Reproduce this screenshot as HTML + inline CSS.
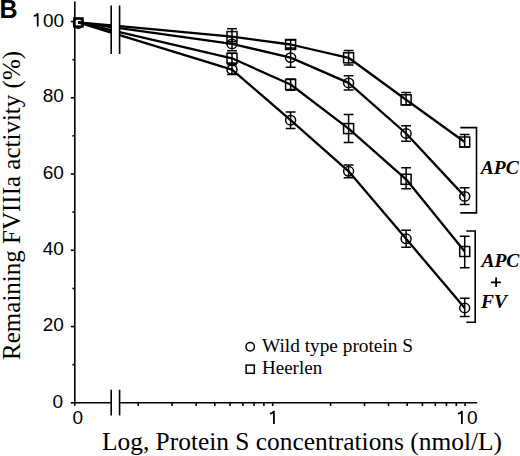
<!DOCTYPE html>
<html><head><meta charset="utf-8"><style>
html,body{margin:0;padding:0;background:#fff;}
body{width:520px;height:456px;overflow:hidden;position:relative;}
svg{position:absolute;left:0;top:0;}
.s{fill:none;stroke:#000;stroke-width:2.3;stroke-linejoin:round;}
.e{fill:none;stroke:#000;stroke-width:1.5;}
.m{fill:none;stroke:#000;stroke-width:1.5;}
.one{fill:none;stroke:#000;stroke-width:1.8;}
.a{fill:none;stroke:#000;stroke-width:1.6;}
.tl{font-family:"Liberation Sans",sans-serif;font-size:19px;fill:#000;}
.sf{font-family:"Liberation Serif",serif;fill:#000;}
.bi{font-family:"Liberation Serif",serif;font-weight:bold;font-style:italic;font-size:19.5px;fill:#000;}
</style></head><body>
<svg width="520" height="456" viewBox="0 0 520 456">
<text x="-0.5" y="17.6" style="font-family:'Liberation Sans',sans-serif;font-weight:bold;font-size:25px">B</text>
<g class="tl" text-anchor="end">
<text x="63.8" y="102.3">80</text>
<text x="63.8" y="178.8">60</text>
<text x="63.8" y="255.3">40</text>
<text x="63.8" y="331.1">20</text>
<text x="63.1" y="407.6">0</text>
</g>
<g class="tl">
<text x="72.6" y="424.1">0</text>
<text x="43.0" y="26.5">00</text>
<text x="466.9" y="424.1">0</text>
</g>
<text class="sf" x="102" y="449.8" style="font-size:25px" textLength="400" lengthAdjust="spacingAndGlyphs">Log, Protein S concentrations (nmol/L)</text>
<text class="sf" transform="translate(19.7,359.9) rotate(-90)" style="font-size:25px">Remaining FVIIIa activity (%)</text>
<path class="s" d="M78.2,22.4 L111.2,25.45 M119.6,26.22 L232,36.6 L290.6,44.5 L348.6,57.8 L406.1,99.8 L464.7,142.0"/>
<path class="s" d="M78.2,22.4 L111.2,27.01 M119.6,28.19 L232,43.9 L290.6,57.6 L348.6,82.9 L406.1,133.5 L464.7,196.4"/>
<path class="s" d="M78.2,22.4 L111.2,30.10 M119.6,32.06 L232,58.3 L290.6,84.5 L348.6,128.6 L406.1,179.3 L464.7,251.5"/>
<path class="s" d="M78.2,22.4 L111.2,32.53 M119.6,35.11 L232,69.6 L290.6,120.2 L348.6,171.3 L406.1,238.8 L464.7,308.0"/>
<path class="e" d="M232,64.8 V74.4 M227.1,64.8 H236.9 M227.1,74.4 H236.9"/>
<ellipse class="m" cx="232" cy="69.6" rx="5.0" ry="4.7"/>
<path class="e" d="M290.6,111.9 V128.4 M285.70000000000005,111.9 H295.5 M285.70000000000005,128.4 H295.5"/>
<ellipse class="m" cx="290.6" cy="120.2" rx="5.0" ry="4.7"/>
<path class="e" d="M348.6,165.0 V177.7 M343.70000000000005,165.0 H353.5 M343.70000000000005,177.7 H353.5"/>
<ellipse class="m" cx="348.6" cy="171.3" rx="5.0" ry="4.7"/>
<path class="e" d="M406.1,230.3 V247.3 M401.20000000000005,230.3 H411.0 M401.20000000000005,247.3 H411.0"/>
<ellipse class="m" cx="406.1" cy="238.8" rx="5.0" ry="4.7"/>
<path class="e" d="M464.7,298.2 V316.5 M459.8,298.2 H469.59999999999997 M459.8,316.5 H469.59999999999997"/>
<ellipse class="m" cx="464.7" cy="308.0" rx="5.0" ry="4.7"/>
<path class="e" d="M232,53.3 V63.3 M227.1,53.3 H236.9 M227.1,63.3 H236.9"/>
<rect class="m" x="227.00" y="53.30" width="10.00" height="10.00"/>
<path class="e" d="M290.6,78.9 V90.2 M285.70000000000005,78.9 H295.5 M285.70000000000005,90.2 H295.5"/>
<rect class="m" x="285.60" y="79.50" width="10.00" height="10.00"/>
<path class="e" d="M348.6,114.6 V142.6 M343.70000000000005,114.6 H353.5 M343.70000000000005,142.6 H353.5"/>
<rect class="m" x="343.60" y="123.60" width="10.00" height="10.00"/>
<path class="e" d="M406.1,167.7 V188.8 M401.20000000000005,167.7 H411.0 M401.20000000000005,188.8 H411.0"/>
<rect class="m" x="401.10" y="174.30" width="10.00" height="10.00"/>
<path class="e" d="M464.7,236.3 V267.8 M459.8,236.3 H469.59999999999997 M459.8,267.8 H469.59999999999997"/>
<rect class="m" x="459.70" y="246.50" width="10.00" height="10.00"/>
<path class="e" d="M232,37.0 V50.8 M227.1,37.0 H236.9 M227.1,50.8 H236.9"/>
<ellipse class="m" cx="232" cy="43.9" rx="5.0" ry="4.7"/>
<path class="e" d="M290.6,47.9 V67.3 M285.70000000000005,47.9 H295.5 M285.70000000000005,67.3 H295.5"/>
<ellipse class="m" cx="290.6" cy="57.6" rx="5.0" ry="4.7"/>
<path class="e" d="M348.6,75.8 V90.0 M343.70000000000005,75.8 H353.5 M343.70000000000005,90.0 H353.5"/>
<ellipse class="m" cx="348.6" cy="82.9" rx="5.0" ry="4.7"/>
<path class="e" d="M406.1,125.8 V141.2 M401.20000000000005,125.8 H411.0 M401.20000000000005,141.2 H411.0"/>
<ellipse class="m" cx="406.1" cy="133.5" rx="5.0" ry="4.7"/>
<path class="e" d="M464.7,187.8 V204.5 M459.8,187.8 H469.59999999999997 M459.8,204.5 H469.59999999999997"/>
<ellipse class="m" cx="464.7" cy="196.4" rx="5.0" ry="4.7"/>
<path class="e" d="M232,28.8 V43.4 M227.1,28.8 H236.9 M227.1,43.4 H236.9"/>
<rect class="m" x="227.00" y="31.60" width="10.00" height="10.00"/>
<path class="e" d="M290.6,40.0 V49.0 M285.70000000000005,40.0 H295.5 M285.70000000000005,49.0 H295.5"/>
<rect class="m" x="285.60" y="39.50" width="10.00" height="10.00"/>
<path class="e" d="M348.6,50.5 V65.1 M343.70000000000005,50.5 H353.5 M343.70000000000005,65.1 H353.5"/>
<rect class="m" x="343.60" y="52.80" width="10.00" height="10.00"/>
<path class="e" d="M406.1,92.5 V105.0 M401.20000000000005,92.5 H411.0 M401.20000000000005,105.0 H411.0"/>
<rect class="m" x="401.10" y="94.80" width="10.00" height="10.00"/>
<path class="e" d="M464.7,134.6 V147.0 M459.8,134.6 H469.59999999999997 M459.8,147.0 H469.59999999999997"/>
<rect class="m" x="459.70" y="137.00" width="10.00" height="10.00"/>
<circle cx="78.3" cy="23.4" r="4.7" fill="none" stroke="#000" stroke-width="1.8"/>
<rect x="74.2" y="18.3" width="8.45" height="8.2" fill="none" stroke="#000" stroke-width="2.2"/>
<path class="a" d="M74.8,1.5 V405.8"/>
<path class="a" d="M74.8,402.8 H111.2 M119.6,402.8 H477.2"/>
<path class="a" d="M111.2,389.8 V415.5 M111.2,5.4 V54"/>
<path class="a" d="M119.6,389.8 V415.5 M119.6,5.4 V54"/>
<path class="a" d="M70.8,402.80 H74.8"/>
<path class="a" d="M72.39999999999999,364.67 H74.8"/>
<path class="a" d="M70.8,326.54 H74.8"/>
<path class="a" d="M72.39999999999999,288.41 H74.8"/>
<path class="a" d="M70.8,250.28 H74.8"/>
<path class="a" d="M72.39999999999999,212.15 H74.8"/>
<path class="a" d="M70.8,174.02 H74.8"/>
<path class="a" d="M72.39999999999999,135.89 H74.8"/>
<path class="a" d="M70.8,97.76 H74.8"/>
<path class="a" d="M72.39999999999999,59.63 H74.8"/>
<path class="a" d="M70.8,21.50 H74.8"/>
<path class="a" d="M138.22,402.8 V406"/>
<path class="a" d="M172.10,402.8 V406"/>
<path class="a" d="M196.14,402.8 V406"/>
<path class="a" d="M214.78,402.8 V406"/>
<path class="a" d="M230.02,402.8 V406"/>
<path class="a" d="M242.90,402.8 V406"/>
<path class="a" d="M254.05,402.8 V406"/>
<path class="a" d="M263.90,402.8 V406"/>
<path class="a" d="M272.70,402.8 V406"/>
<path class="a" d="M330.62,402.8 V406"/>
<path class="a" d="M364.50,402.8 V406"/>
<path class="a" d="M388.54,402.8 V406"/>
<path class="a" d="M407.18,402.8 V406"/>
<path class="a" d="M422.42,402.8 V406"/>
<path class="a" d="M435.30,402.8 V406"/>
<path class="a" d="M446.45,402.8 V406"/>
<path class="a" d="M456.30,402.8 V406"/>
<path class="a" d="M465.10,402.8 V406"/>
<path class="one" d="M273.9,423.9 V411 C273.4,412.6 272.2,413.5 269.9,413.6"/>
<path class="one" d="M461.9,423.9 V411 C461.4,412.6 460.2,413.5 457.9,413.6"/>
<path class="one" d="M37.7,26.4 V13.3 C37.2,14.9 36.0,15.8 33.9,15.9"/>
<!-- brackets -->
<path class="a" d="M460.3,127.6 H476.5 V212.9 H460.3"/>
<path class="a" d="M466.3,231 H475.2 V322.2 H466.3"/>
<text class="bi" x="480.8" y="173.8">APC</text>
<text class="bi" x="481.4" y="266.5">APC</text>
<path d="M496.1,277.6 V287 M491,282.4 H500.9" stroke="#000" stroke-width="1.8" fill="none"/>
<text class="bi" x="481.1" y="308">FV</text>
<!-- legend -->
<circle class="m" cx="250.2" cy="346.8" r="4.2"/>
<rect class="m" x="246.1" y="365.1" width="8.2" height="8.2"/>
<text class="sf" x="262" y="352.1" style="font-size:19px" textLength="151" lengthAdjust="spacingAndGlyphs">Wild type protein S</text>
<text class="sf" x="262" y="374.2" style="font-size:19px">Heerlen</text>
</svg>
</body></html>
